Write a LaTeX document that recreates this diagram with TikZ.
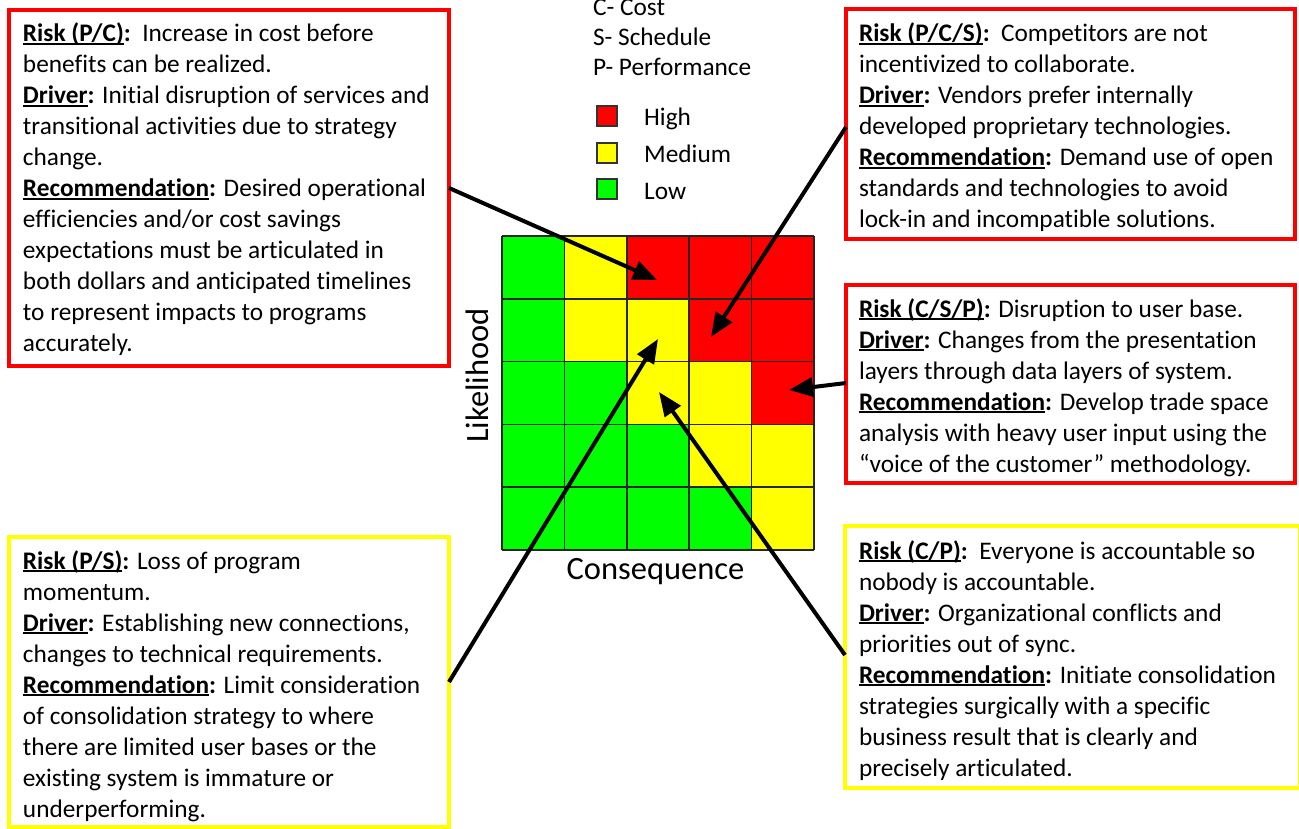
\documentclass[tikz,border=0pt]{standalone}
\usepackage{fontspec}
\setmainfont[Ligatures={NoCommon}]{Carlito}
\usetikzlibrary{arrows.meta}
\definecolor{rred}{HTML}{FF0000}
\definecolor{ryel}{HTML}{FFFF00}
\definecolor{rgrn}{HTML}{00FF00}
\newcommand{\hul}[1]{\setbox0\hbox{\textbf{#1}}\rlap{\rule[-3pt]{\wd0}{1.6pt}}\box0}
\newcommand{\hd}[1]{\hul{#1}\textbf{:}}
\newcommand{\bodyfont}{\fontsize{25.3}{31}\selectfont}
\tikzset{
  riskbox/.style={draw=#1, line width=4pt, fill=none, outer sep=0pt, inner sep=0pt},
  bodytxt/.style={inner sep=0pt, outer sep=0pt, anchor=base west, font=\bodyfont},
  legtxt/.style={inner sep=0pt, anchor=base west, font=\bodyfont},
  cell/.style={draw=black!85, line width=1.6pt},
  legsq/.style={draw=black!80, line width=1.2pt, minimum size=20pt, inner sep=0pt},
  arr/.style={line width=4pt, -{Triangle[length=24pt,width=19pt]}, shorten >=0pt},
}
\begin{document}
\begin{tikzpicture}[x=1pt,y=-1pt]
\useasboundingbox (0,0) rectangle (1299,829);
\fill[white] (0,0) rectangle (1299,829);

% risk matrix
\def\gx{502}\def\gy{236}\def\gw{62.4}\def\gh{62.8}
\foreach \r/\cols in {0/{rgrn,ryel,rred,rred,rred},1/{rgrn,ryel,ryel,rred,rred},2/{rgrn,rgrn,ryel,ryel,rred},3/{rgrn,rgrn,rgrn,ryel,ryel},4/{rgrn,rgrn,rgrn,rgrn,ryel}}{
  \foreach \cc [count=\c from 0] in \cols {
    \fill[\cc] ({\gx+\c*\gw},{\gy+\r*\gh}) rectangle ({\gx+(\c+1)*\gw},{\gy+(\r+1)*\gh});
  }
}
\foreach \i in {0,...,5}{
  \draw[cell] ({\gx+\i*\gw},\gy) -- ({\gx+\i*\gw},{\gy+5*\gh});
  \draw[cell] (\gx,{\gy+\i*\gh}) -- ({\gx+5*\gw},{\gy+\i*\gh});
}
\node[font=\fontsize{32.5}{36}\selectfont, inner sep=0pt, anchor=base] (cons) at (655.5,579) {Consequence};
\node[font=\fontsize{32.5}{36}\selectfont, inner sep=0pt, anchor=base, rotate=90] (like) at (488,375.5) {Likelihood};

% legend
\node[legtxt] (lc) at (593,16) {C- Cost};
\node[legtxt] (ls) at (593,46) {S- Schedule};
\node[legtxt] (lp) at (593,76) {P- Performance};
\node[legsq, fill=rred] (sqh) at (607,116) {};
\node[legsq, fill=ryel] (sqm) at (607,153) {};
\node[legsq, fill=rgrn] (sql) at (607,189) {};
\node[legtxt] (lh) at (644,126) {High};
\node[legtxt] (lm) at (644,163) {Medium};
\node[legtxt] (ll) at (644,200) {Low};

% boxes
\node[riskbox=rred, minimum width=440pt, minimum height=356pt] (b1) at (229,188) {};
\node[riskbox=rred, minimum width=449pt, minimum height=230pt] (b2) at (1070.5,124) {};
\node[riskbox=rred, minimum width=449pt, minimum height=198pt] (b3) at (1070.5,384) {};
\node[riskbox=ryel, minimum width=440pt, minimum height=290pt] (b4) at (229,682) {};
\node[riskbox=ryel, minimum width=455pt, minimum height=262pt] (b5) at (1072.5,657) {};

\node[bodytxt] (t1) at (23,42) {\begin{tabular}[t]{@{}l@{}}
\hd{Risk (P/C)}~~Increase in cost before\\
benefits can be realized.\\
\hd{Driver} Initial disruption of services and\\
transitional activities due to strategy\\
change.\\
\hd{Recommendation} Desired operational\\
efficiencies and/or cost savings\\
expectations must be articulated in\\
both dollars and anticipated timelines\\
to represent impacts to programs\\
accurately.
\end{tabular}};

\node[bodytxt] (t2) at (859,42) {\begin{tabular}[t]{@{}l@{}}
\hd{Risk (P/C/S)}~~Competitors are not\\
incentivized to collaborate.\\
\hd{Driver} Vendors prefer internally\\
developed proprietary technologies.\\
\hd{Recommendation} Demand use of open\\
standards and technologies to avoid\\
lock-in and incompatible solutions.
\end{tabular}};

\node[bodytxt] (t3) at (859,317) {\begin{tabular}[t]{@{}l@{}}
\hd{Risk (C/S/P)} Disruption to user base.\\
\hd{Driver} Changes from the presentation\\
layers through data layers of system.\\
\hd{Recommendation} Develop trade space\\
analysis with heavy user input using the\\
“voice of the customer” methodology.
\end{tabular}};

\node[bodytxt] (t4) at (23,569) {\begin{tabular}[t]{@{}l@{}}
\hd{Risk (P/S)} Loss of program\\
momentum.\\
\hd{Driver} Establishing new connections,\\
changes to technical requirements.\\
\hd{Recommendation} Limit consideration\\
of consolidation strategy to where\\
there are limited user bases or the\\
existing system is immature or\\
underperforming.
\end{tabular}};

\node[bodytxt] (t5) at (859,559) {\begin{tabular}[t]{@{}l@{}}
\hd{Risk (C/P)}~~Everyone is accountable so\\
nobody is accountable.\\
\hd{Driver} Organizational conflicts and\\
priorities out of sync.\\
\hd{Recommendation} Initiate consolidation\\
strategies surgically with a specific\\
business result that is clearly and\\
precisely articulated.
\end{tabular}};

% arrow targets
\coordinate (p1) at (657,280);
\coordinate (p2) at (711,337);
\coordinate (p3) at (789,390);
\coordinate (p4) at (658,339);
\coordinate (p5) at (659,392);

\draw[arr] (b1.east) -- (p1);
\draw[arr] ([yshift=-3pt]b2.west) -- (p2);
\draw[arr] ([yshift=1pt]b3.west) -- (p3);
\draw[arr] (b4.east) -- (p4);
\draw[arr] ([yshift=2pt]b5.west) -- (p5);
\end{tikzpicture}
\end{document}
